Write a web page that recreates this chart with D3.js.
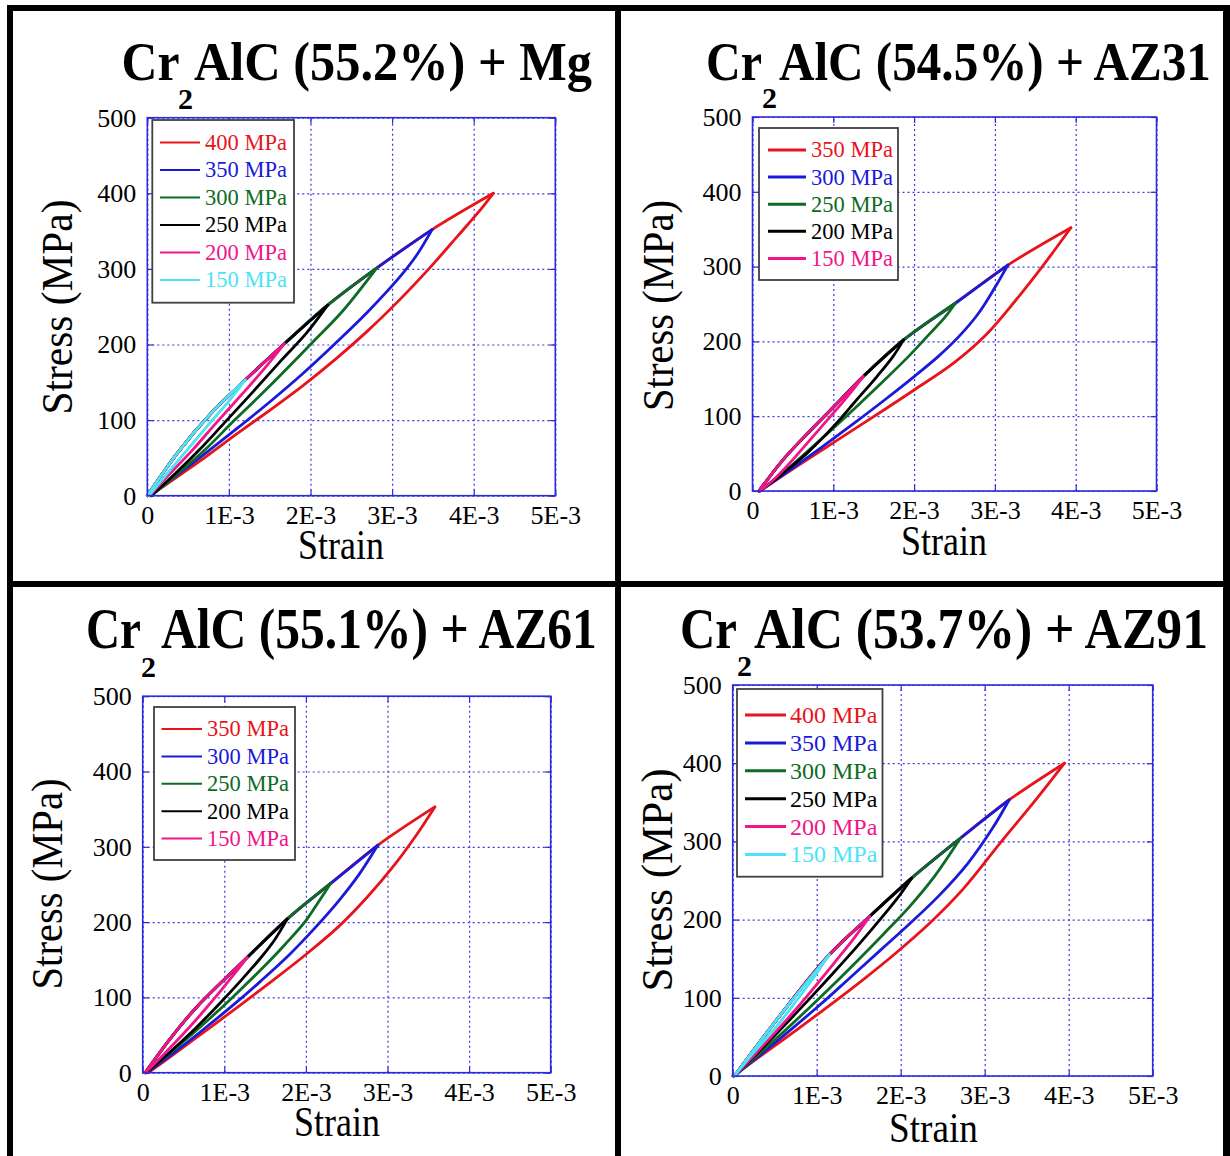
<!DOCTYPE html>
<html>
<head>
<meta charset="utf-8">
<script src="https://cdn.jsdelivr.net/npm/d3@7"></script>
<style>
  body { margin: 0; background: #fff; }
  svg { display: block; font-family: "Liberation Serif", "Times New Roman", serif; }
</style>
</head>
<body>
<div id="chart"></div>
<script>
// strain is given in units of 1E-3, stress in MPa
const xTicks = [0, 1, 2, 3, 4, 5];
const xTickLabels = ["0", "1E-3", "2E-3", "3E-3", "4E-3", "5E-3"];
const yTicks = [0, 100, 200, 300, 400, 500];

// Cr2AlC (55.2%) + Mg
const mgPeaks = [400, 350, 300, 250, 200, 150];
const mgEnvelope = [[0,0],[0.38,58],[0.79,110],[1.20,153],[1.68,201],[2.21,252],[2.81,301],[3.49,352],[4.24,400]];
const mgUnloading = [
	[[4.24,400],[4.05,374],[3.8,343],[3.45,300],[3.1,260],[2.7,218],[2.3,180],[1.9,145],[1.5,113],[1.1,82],[0.7,50],[0.3,20],[0.03,0]],
	[[3.49,352],[3.3,318],[3.1,290],[2.7,243],[2.3,201],[1.9,161],[1.5,124],[1.1,89],[0.7,55],[0.3,22],[0.03,0]],
	[[2.81,301],[2.4,245],[2.0,200],[1.5,145],[1.07,100],[0.7,60],[0.35,27],[0.05,0]],
	[[2.21,252],[1.95,215],[1.65,180],[1.3,138],[0.95,97],[0.65,62],[0.35,30],[0.05,0]],
	[[1.68,201],[1.45,170],[1.15,133],[0.85,97],[0.55,60],[0.25,26],[0.03,0]],
	[[1.20,153],[1.0,125],[0.75,94],[0.5,62],[0.25,30],[0.02,0]]
];

// Cr2AlC (54.5%) + AZ31
const az31Peaks = [350, 300, 250, 200, 150];
const az31Envelope = [[0.08,0],[0.38,42],[0.7,79],[1.0,112],[1.37,153],[1.87,202],[2.51,251],[3.16,302],[3.94,352]];
const az31Unloading = [
	[[3.94,352],[3.6,302],[3.25,254],[2.9,210],[2.5,172],[2.0,135],[1.65,110],[1.25,82],[0.85,54],[0.45,26],[0.09,0]],
	[[3.16,302],[3.0,272],[2.8,238],[2.55,206],[2.3,180],[2.0,153],[1.65,123],[1.25,90],[0.85,58],[0.45,27],[0.09,0]],
	[[2.51,251],[2.38,232],[2.2,211],[1.95,182],[1.65,150],[1.3,114],[0.95,79],[0.65,50],[0.35,22],[0.09,0]],
	[[1.87,202],[1.74,180],[1.54,153],[1.29,122],[1.0,86],[0.67,50],[0.38,24],[0.09,0]],
	[[1.37,153],[1.21,131],[1.0,104],[0.75,73],[0.5,42],[0.26,15],[0.09,0]]
];

// Cr2AlC (55.1%) + AZ61
const az61Peaks = [350, 300, 250, 200, 150];
const az61Envelope = [[0.03,0],[0.35,47],[0.66,87],[1.28,153],[1.77,204],[2.30,251],[2.88,302],[3.58,353]];
const az61Unloading = [
	[[3.58,353],[3.35,315],[3.1,278],[2.75,233],[2.4,194],[2.0,157],[1.6,123],[1.2,90],[0.8,58],[0.4,26],[0.07,0]],
	[[2.88,302],[2.65,263],[2.4,228],[2.1,191],[1.8,157],[1.45,122],[1.1,89],[0.75,58],[0.4,28],[0.05,0]],
	[[2.30,251],[2.15,226],[2.0,202],[1.75,171],[1.45,137],[1.1,100],[0.75,65],[0.4,32],[0.04,0]],
	[[1.77,204],[1.62,177],[1.45,153],[1.2,122],[0.9,87],[0.6,54],[0.3,24],[0.04,0]],
	[[1.28,153],[1.15,135],[0.95,108],[0.7,76],[0.45,46],[0.2,18],[0.03,0]]
];

// Cr2AlC (53.7%) + AZ91
const az91Peaks = [400, 350, 300, 250, 200, 150];
const az91Envelope = [[0.02,0],[0.56,77],[1.15,155],[1.63,204],[2.13,253],[2.71,304],[3.29,353],[3.95,400]];
const az91Unloading = [
	[[3.95,400],[3.6,352],[3.2,300],[2.75,240],[2.35,196],[1.95,158],[1.55,123],[1.15,90],[0.75,58],[0.35,27],[0.0,0]],
	[[3.29,353],[3.1,318],[2.8,272],[2.45,230],[2.1,194],[1.75,160],[1.4,126],[1.05,92],[0.7,60],[0.35,29],[0.02,0]],
	[[2.71,304],[2.4,255],[2.1,216],[1.8,182],[1.5,149],[1.2,117],[0.9,86],[0.6,56],[0.3,27],[0.02,0]],
	[[2.13,253],[2.0,233],[1.8,206],[1.5,168],[1.2,132],[0.9,97],[0.6,63],[0.3,30],[0.02,0]],
	[[1.63,204],[1.45,177],[1.25,150],[1.0,117],[0.75,85],[0.5,55],[0.25,26],[0.02,0]],
	[[1.15,155],[0.99,130],[0.75,95],[0.52,63],[0.24,29],[0.02,0]]
];

// largest loop first: red, blue, green, black, pink, cyan
const palette = ["#e8141c", "#1a1ad8", "#0d6b25", "#000000", "#f0158a", "#4be3f5"];
const gridColor = "#3a3ae0";
const frameColor = "#2a2ae0";

const panels = [
	{ title: "AlC (55.2%) + Mg", peaks: mgPeaks, env: mgEnvelope, unload: mgUnloading,
	  plot: [147.3, 555.3, 117.7, 495.7], titleY: 80, subY: 109, crX: 121.5, crLen: 58, subX: 178, restX: 194, restLen: 398, titleSize: 54,
	  stress: [72, 307, 215], strain: [298, 559, 86],
	  legend: { box: [152.3, 294, 120, 302.7], line: [160, 200], textX: 205, row0: 142.5, step: 27.5, size: 22.5, lw: 2 } },
	{ title: "AlC (54.5%) + AZ31", peaks: az31Peaks, env: az31Envelope, unload: az31Unloading,
	  plot: [752.5, 1156.5, 117, 491], titleY: 80, subY: 108, crX: 706, crLen: 56, subX: 762, restX: 779, restLen: 432, titleSize: 54,
	  stress: [673, 305.5, 211], strain: [901, 555, 86],
	  legend: { box: [759, 898, 128, 280], line: [768, 806], textX: 811, row0: 150, step: 27.1, size: 22.5, lw: 3 } },
	{ title: "AlC (55.1%) + AZ61", peaks: az61Peaks, env: az61Envelope, unload: az61Unloading,
	  plot: [142.7, 550.7, 696.2, 1072.7], titleY: 648, subY: 677, crX: 86, crLen: 55, subX: 141, restX: 161, restLen: 436, titleSize: 56,
	  stress: [62, 884, 211], strain: [294, 1136, 86],
	  legend: { box: [154, 295, 707, 860], line: [161.5, 202], textX: 207, row0: 729, step: 27.4, size: 22.5, lw: 2 } },
	{ title: "AlC (53.7%) + AZ91", peaks: az91Peaks, env: az91Envelope, unload: az91Unloading,
	  plot: [732.7, 1152.7, 685, 1076], titleY: 648, subY: 676, crX: 680, crLen: 57, subX: 737, restX: 754, restLen: 454, titleSize: 56,
	  stress: [672, 880, 223], strain: [889, 1142, 89],
	  legend: { box: [737, 882.5, 689, 876.7], line: [745, 786], textX: 790, row0: 715, step: 27.9, size: 24, lw: 3 } }
];

const W = 1230, H = 1156;
const svg = d3.select("#chart").append("svg").attr("width", W).attr("height", H);
svg.append("rect").attr("width", W).attr("height", H).attr("fill", "#fff");

panels.forEach(drawPanel);

// heavy black frame round the four panels
const bars = [
	[7, 5, W - 7, 6], [7, 5, 6, H - 5], [W - 7, 5, 7, H - 5],
	[615, 5, 6, H - 5], [7, 581, W - 7, 6]
];
svg.append("g").selectAll("rect").data(bars).join("rect")
	.attr("x", d => d[0]).attr("y", d => d[1])
	.attr("width", d => d[2]).attr("height", d => d[3])
	.attr("fill", "#000");

// squeeze a text horizontally to a given length (the original lettering is condensed)
function squeezed(parent, str, size, bold, len, place) {
	const t = parent.append("text")
		.attr("font-size", size)
		.attr("font-weight", bold ? "bold" : "normal")
		.text(str);
	const natural = t.node().getComputedTextLength();
	const sx = Math.min(1, len / natural);
	t.attr("transform", `${place} scale(${sx},1)`);
	return t;
}

function drawPanel(p) {
	const [left, right, top, bottom] = p.plot;
	const w = right - left, h = bottom - top;
	const x = d3.scaleLinear().domain([0, 5]).range([left, right]);
	const y = d3.scaleLinear().domain([0, 500]).range([bottom, top]);
	const g = svg.append("g");

	// dotted grid
	g.append("g").attr("transform", `translate(0,${bottom})`)
		.call(d3.axisBottom(x).tickValues(xTicks).tickSize(-h).tickFormat(""))
		.call(a => a.select(".domain").remove())
		.selectAll("line").attr("stroke", gridColor).attr("stroke-width", 1.2).attr("stroke-dasharray", "2,3");
	g.append("g").attr("transform", `translate(${left},0)`)
		.call(d3.axisLeft(y).tickValues(yTicks).tickSize(-w).tickFormat(""))
		.call(a => a.select(".domain").remove())
		.selectAll("line").attr("stroke", gridColor).attr("stroke-width", 1.2).attr("stroke-dasharray", "2,3");

	// tick labels
	g.append("g").attr("transform", `translate(0,${bottom})`)
		.call(d3.axisBottom(x).tickValues(xTicks).tickSize(0).tickPadding(10).tickFormat((d, i) => xTickLabels[i]))
		.call(a => a.select(".domain").remove())
		.selectAll("text").attr("font-size", 26).attr("font-family", "Liberation Serif").attr("fill", "#000");
	g.append("g").attr("transform", `translate(${left},0)`)
		.call(d3.axisLeft(y).tickValues(yTicks).tickSize(0).tickPadding(11))
		.call(a => a.select(".domain").remove())
		.selectAll("text").attr("font-size", 26).attr("font-family", "Liberation Serif").attr("fill", "#000");

	// short inward ticks on all four sides
	const inward = [
		[d3.axisBottom(x).tickValues(xTicks), `translate(0,${bottom})`],
		[d3.axisTop(x).tickValues(xTicks), `translate(0,${top})`],
		[d3.axisLeft(y).tickValues(yTicks), `translate(${left},0)`],
		[d3.axisRight(y).tickValues(yTicks), `translate(${right},0)`]
	];
	inward.forEach(([ax, tr]) => {
		g.append("g").attr("transform", tr)
			.call(ax.tickSize(-6).tickFormat(""))
			.call(a => a.select(".domain").remove())
			.selectAll("line").attr("stroke", frameColor).attr("stroke-width", 1.2);
	});

	// hysteresis loops, biggest first so the smaller ones sit on top
	const line = d3.line().x(d => x(d[0])).y(d => y(d[1])).curve(d3.curveCatmullRom.alpha(0.5));
	p.unload.forEach((lower, i) => {
		const peak = lower[0];
		const upper = p.env.filter(pt => pt[0] < peak[0] - 0.02).concat([peak]);
		[upper, lower].forEach(branch => {
			g.append("path")
				.attr("d", line(branch))
				.attr("fill", "none")
				.attr("stroke", palette[i])
				.attr("stroke-width", 2.8)
				.attr("stroke-linejoin", "round")
				.attr("stroke-linecap", "round");
		});
	});

	// axes box
	g.append("rect")
		.attr("x", left).attr("y", top).attr("width", w).attr("height", h)
		.attr("fill", "none").attr("stroke", frameColor).attr("stroke-width", 1.6);

	// legend
	const L = p.legend;
	const lg = g.append("g");
	lg.append("rect")
		.attr("x", L.box[0]).attr("y", L.box[2])
		.attr("width", L.box[1] - L.box[0]).attr("height", L.box[3] - L.box[2])
		.attr("fill", "#fff").attr("stroke", "#404040").attr("stroke-width", 1.8);
	const rows = lg.selectAll("g.row").data(p.peaks).join("g").attr("class", "row")
		.attr("transform", (d, i) => `translate(0,${L.row0 + i * L.step})`);
	rows.append("line")
		.attr("x1", L.line[0]).attr("x2", L.line[1])
		.attr("stroke", (d, i) => palette[i]).attr("stroke-width", L.lw);
	rows.append("text")
		.attr("x", L.textX).attr("y", L.size * 0.33)
		.attr("font-size", L.size)
		.attr("fill", (d, i) => palette[i])
		.text(d => `${d} MPa`);

	// title: Cr, subscript 2, then the rest
	squeezed(g, "Cr", p.titleSize, true, p.crLen, `translate(${p.crX},${p.titleY})`);
	g.append("text").attr("x", p.subX).attr("y", p.subY)
		.attr("font-size", 30).attr("font-weight", "bold")
		.text("2");
	squeezed(g, p.title, p.titleSize, true, p.restLen, `translate(${p.restX},${p.titleY})`);

	// axis titles
	squeezed(g, "Stress (MPa)", 45, false, p.stress[2], `translate(${p.stress[0]},${p.stress[1]}) rotate(-90)`)
		.attr("text-anchor", "middle");
	squeezed(g, "Strain", 42, false, p.strain[2], `translate(${p.strain[0]},${p.strain[1]})`);
}
</script>
</body>
</html>
